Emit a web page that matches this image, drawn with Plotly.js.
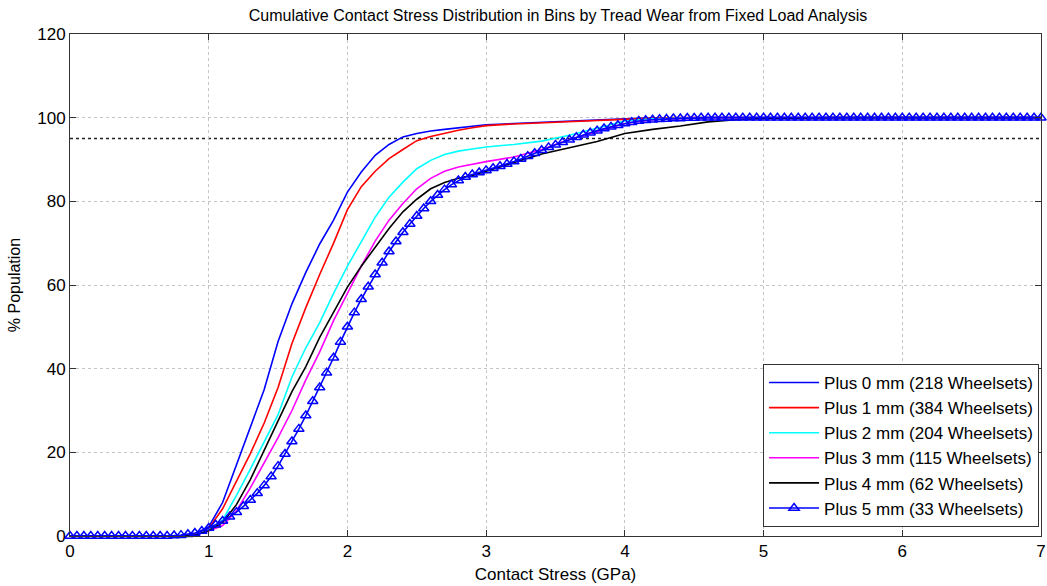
<!DOCTYPE html>
<html>
<head>
<meta charset="utf-8">
<script src="https://cdn.plot.ly/plotly-3.0.1.min.js"></script>
<style>html,body{margin:0;padding:0;background:#fff;}#chart{width:1047px;height:586px;}</style>
</head>
<body>
<div id="chart"></div>
<script>
// Contact stress sample points (GPa) for the line series
const stress = [0, 0.8, 0.9, 1.0, 1.1, 1.2, 1.3, 1.4, 1.5, 1.6, 1.7, 1.8, 1.9, 2.0, 2.1, 2.2, 2.3, 2.4, 2.5, 2.6, 2.7, 2.8, 2.9, 3.0, 3.2, 3.4, 3.6, 3.8, 4.0, 4.2, 4.4, 4.6, 4.8, 5.0, 5.5, 6.0, 7.0];

const plus0 = [0, 0, 0.5, 2.2, 8, 17, 25.5, 35, 46.5, 55.5, 63, 69.8, 75.5, 82.2, 87, 91, 93.6, 95.4, 96.2, 96.8, 97.2, 97.6, 98, 98.3, 98.6, 98.9, 99.2, 99.5, 99.7, 99.9, 100, 100, 100, 100, 100, 100, 100];
const plus1 = [0, 0, 0.4, 1.8, 6.5, 13, 19.7, 27, 35.5, 46, 54.6, 62.5, 70, 78, 83.5, 87.2, 90.2, 92.4, 94.5, 95.5, 96.3, 97, 97.6, 98.1, 98.5, 98.8, 99.1, 99.4, 99.7, 99.9, 100, 100, 100, 100, 100, 100, 100];
const plus2 = [0, 0, 0.3, 1.4, 3.8, 9.7, 16, 22.4, 29, 38, 45, 51, 58, 64.5, 70.5, 76.2, 81, 84.6, 87.8, 89.8, 91.2, 92, 92.5, 93, 93.6, 94.4, 95.8, 97.5, 99.2, 99.7, 99.9, 100, 100, 100, 100, 100, 100];
const plus3 = [0, 0, 0.2, 1.2, 2.5, 6, 11.5, 17.5, 23.5, 30, 37.3, 44, 51.5, 58, 64.5, 70.5, 75.5, 79.5, 83, 85.5, 87.2, 88.2, 88.9, 89.5, 90.6, 92.4, 94.8, 96.7, 98.6, 99.5, 99.8, 100, 100, 100, 100, 100, 100];
const plus4 = [0, 0, 0.2, 1.3, 3.2, 7.5, 13.5, 20.7, 27.5, 34.5, 40.5, 47.5, 53.5, 59.5, 64.5, 69, 73.5, 77.5, 80.5, 83, 84.5, 85.5, 86.2, 87.2, 89.2, 91.3, 92.8, 94.3, 96.2, 97.2, 98, 99, 99.5, 99.8, 100, 100, 100];

// Plus 5 mm series: bins from 0 to 7 GPa every 0.05 GPa
const bin0 = 0, binStep = 0.05;
const plus5 = [
  0, 0, 0, 0, 0, 0, 0, 0, 0, 0,
  0, 0, 0, 0, 0, 0.1, 0.2, 0.4, 0.7, 1.2,
  1.9, 2.7, 3.6, 4.6, 5.7, 7.1, 8.6, 10.2, 12.1, 14.2,
  16.7, 19.6, 22.6, 25.6, 28.8, 32.2, 35.5, 39, 42.6, 46.4,
  50, 53.4, 56.6, 59.6, 62.5, 65.3, 68, 70.4, 72.6, 74.6,
  76.5, 78.3, 80, 81.5, 82.8, 84, 85, 85.8, 86.4, 86.9,
  87.4, 87.9, 88.4, 88.9, 89.5, 90.1, 90.8, 91.5, 92.2, 92.9,
  93.5, 94.1, 94.7, 95.3, 95.9, 96.4, 96.9, 97.4, 97.8, 98.2,
  98.6, 98.9, 99.2, 99.4, 99.5, 99.6, 99.7, 99.8, 99.8, 99.9,
  99.9, 100, 100, 100, 100, 100, 100, 100, 100, 100,
  100, 100, 100, 100, 100, 100, 100, 100, 100, 100,
  100, 100, 100, 100, 100, 100, 100, 100, 100, 100,
  100, 100, 100, 100, 100, 100, 100, 100, 100, 100,
  100, 100, 100, 100, 100, 100, 100, 100, 100, 100,
  100
];

const names = [
  'Plus 0 mm (218 Wheelsets)',
  'Plus 1 mm (384 Wheelsets)',
  'Plus 2 mm (204 Wheelsets)',
  'Plus 3 mm (115 Wheelsets)',
  'Plus 4 mm (62 Wheelsets)',
  'Plus 5 mm (33 Wheelsets)'
];
const threshold = 95;
const xTicks = [0, 1, 2, 3, 4, 5, 6, 7];
const yTicks = [0, 20, 40, 60, 80, 100, 120];

const colors = ['rgb(0,0,255)', 'rgb(255,0,0)', 'rgb(0,255,255)', 'rgb(255,0,255)', 'rgb(0,0,0)', 'rgb(0,0,255)'];
const lineSeries = [plus0, plus1, plus2, plus3, plus4];

const traces = lineSeries.map((ys, i) => ({
  x: stress, y: ys, type: 'scatter', mode: 'lines', name: names[i],
  line: {color: colors[i], width: 1.6}
}));
traces.push({
  x0: bin0, dx: binStep, y: plus5, type: 'scatter', mode: 'lines+markers', name: names[5],
  line: {color: colors[5], width: 1.6},
  marker: {symbol: 'triangle-up-open', size: 9, color: colors[5], line: {width: 1.5, color: colors[5]}},
  cliponaxis: false
});

const font = 'Liberation Sans, Arial, sans-serif';
const axisCommon = {
  showline: true, linecolor: '#333', linewidth: 1, mirror: 'ticks',
  ticks: 'inside', ticklen: 6, tickcolor: '#333',
  showgrid: true, gridcolor: '#c4c4c4', griddash: 'dot', gridwidth: 1, zeroline: false,
  tickfont: {family: font, size: 17, color: '#000'},
  ticklabeloverflow: 'allow'
};
const layout = {
  width: 1047, height: 586,
  margin: {l: 70, r: 6, t: 34, b: 50},
  paper_bgcolor: '#fff', plot_bgcolor: '#fff',
  showlegend: true,
  title: {text: 'Cumulative Contact Stress Distribution in Bins by Tread Wear from Fixed Load Analysis',
          font: {family: font, size: 16, color: '#000'}, x: 0.533, xanchor: 'center', y: 0.973, yanchor: 'middle'},
  xaxis: Object.assign({}, axisCommon, {
    range: [0, 7], tickvals: xTicks, ticktext: xTicks.map(String),
    title: {text: 'Contact Stress (GPa)', font: {family: font, size: 17, color: '#000'}, standoff: 7}
  }),
  yaxis: Object.assign({}, axisCommon, {
    range: [0, 120], tickvals: yTicks, ticktext: yTicks.map(String),
    title: {text: '% Population', font: {family: font, size: 16, color: '#000'}, standoff: 12}
  }),
  shapes: [{type: 'line', xref: 'paper', x0: 0, x1: 1, yref: 'y', y0: threshold, y1: threshold,
            line: {color: '#222', width: 1.5, dash: 'dot'}, layer: 'below'}],
  legend: {x: 0.998, xanchor: 'right', y: 0.018, yanchor: 'bottom',
           bgcolor: '#fff', bordercolor: '#333', borderwidth: 1, itemwidth: 50,
           font: {family: font, size: 17, color: '#000'}, tracegroupgap: 0}
};

Plotly.newPlot('chart', traces, layout, {displayModeBar: false, staticPlot: true});
</script>
</body>
</html>
